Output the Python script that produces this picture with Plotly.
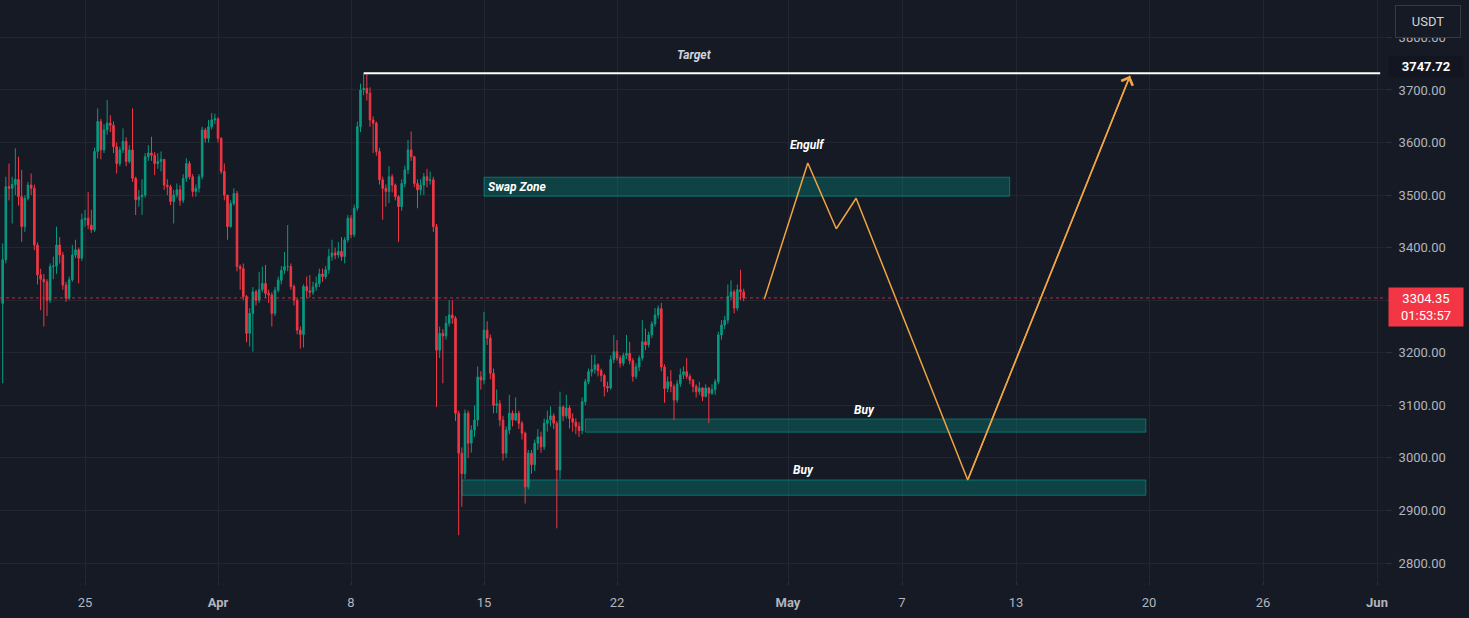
import pandas as pd
import plotly.graph_objects as go

# ---------------- data (4h candles, ETH/USDT) ----------------
start_time = "2024-03-20 16:00"
first_open = 3294

close = [3377, 3516, 3513, 3520, 3530, 3497, 3440, 3494, 3519, 3513,
         3405, 3348, 3340, 3335, 3300, 3364, 3365, 3405, 3386, 3329,
         3304, 3339, 3386, 3396, 3380, 3453, 3456, 3443, 3434, 3583,
         3640, 3586, 3624, 3637, 3633, 3592, 3560, 3586, 3602, 3564,
         3586, 3532, 3491, 3497, 3500, 3573, 3580, 3576, 3560, 3564,
         3568, 3519, 3516, 3488, 3500, 3510, 3490, 3532, 3560,
         3535, 3507, 3513, 3535, 3624, 3608, 3630, 3643, 3645, 3608,
         3545, 3500, 3440, 3484, 3503, 3364, 3360, 3307, 3237, 3275,
         3316, 3300, 3320, 3332, 3313, 3310, 3275, 3319, 3338, 3357,
         3364, 3364, 3326, 3300, 3243, 3235, 3326, 3318, 3315, 3325,
         3332, 3350, 3345, 3358, 3383, 3390, 3386, 3393, 3383, 3415,
         3456, 3425, 3475, 3630, 3700, 3703, 3694, 3643, 3637,
         3583, 3529, 3513, 3507, 3535, 3519, 3497, 3478, 3522, 3548,
         3586, 3573, 3522, 3510, 3519, 3535, 3528, 3529,
         3440, 3205, 3237, 3232, 3256, 3272, 3266, 3085, 3009, 2970,
         3085, 3028, 3053, 3072, 3154, 3148, 3243, 3228, 3161, 3100,
         3103, 3072, 3009, 3053, 3085, 3072, 3085, 3066, 3047, 2945,
         3009, 2987, 3028, 3040, 3021, 3066, 3072, 3080, 3066, 2977,
         3097,
         3080, 3095, 3075, 3068, 3060, 3052, 3107, 3145, 3164, 3168,
         3177, 3166, 3157, 3136, 3133, 3187, 3202, 3190, 3180, 3195,
         3199, 3185, 3155, 3173, 3190, 3221, 3215, 3234, 3255, 3272,
         3284, 3173, 3132, 3145, 3136, 3110, 3141, 3158, 3164, 3155,
         3148, 3136, 3126, 3133, 3117, 3133, 3123, 3130, 3145, 3234,
         3253, 3262, 3307, 3316, 3285, 3320, 3316, 3304.35]

high = [3408, 3535, 3560, 3535, 3589, 3573, 3548, 3500, 3525, 3541,
        3520, 3410, 3360, 3350, 3340, 3370, 3383, 3440, 3420, 3392,
        3335, 3345, 3405, 3415, 3400, 3465, 3472, 3506, 3472, 3590,
        3665, 3645, 3635, 3681, 3652, 3640, 3600, 3592, 3627, 3610,
        3595, 3665, 3535, 3510, 3530, 3580, 3595, 3611, 3582, 3580,
        3583, 3568, 3530, 3520, 3510, 3522, 3519, 3540, 3570,
        3565, 3540, 3520, 3540, 3630, 3628, 3643, 3656, 3655, 3648,
        3610, 3560, 3490, 3490, 3513, 3508, 3368, 3370, 3310, 3285,
        3325, 3320, 3354, 3364, 3367, 3320, 3315, 3325, 3345, 3365,
        3392, 3443, 3370, 3330, 3305, 3250, 3330, 3345, 3348, 3335,
        3345, 3360, 3360, 3365, 3398, 3415, 3400, 3411, 3420, 3420,
        3462, 3462, 3482, 3640, 3712, 3731, 3731, 3705, 3650,
        3640, 3590, 3535, 3520, 3555, 3540, 3522, 3500, 3530, 3556,
        3605, 3621, 3575, 3530, 3530, 3542, 3550, 3545,
        3535, 3445, 3250, 3245, 3270, 3300, 3300, 3270, 3090, 3020,
        3092, 3090, 3062, 3100, 3174, 3165, 3278, 3260, 3235, 3170,
        3130, 3110, 3080, 3060, 3120, 3090, 3115, 3090, 3070, 3050,
        3015, 3015, 3035, 3055, 3050, 3075, 3090, 3098, 3085, 3070,
        3126,
        3100, 3120, 3100, 3085, 3075, 3068, 3115, 3150, 3170, 3196,
        3196, 3180, 3170, 3160, 3145, 3195, 3234, 3224, 3195, 3200,
        3234, 3221, 3190, 3180, 3195, 3262, 3246, 3240, 3260, 3285,
        3290, 3295, 3178, 3155, 3167, 3140, 3148, 3170, 3174, 3190,
        3160, 3150, 3140, 3145, 3135, 3140, 3135, 3140, 3150, 3240,
        3262, 3270, 3330, 3338, 3320, 3330, 3358, 3322]

low = [3142, 3370, 3490, 3446, 3500, 3480, 3411, 3430, 3490, 3500,
       3395, 3330, 3281, 3250, 3270, 3295, 3340, 3350, 3370, 3320,
       3297, 3300, 3335, 3380, 3332, 3375, 3440, 3435, 3428, 3430,
       3570, 3568, 3580, 3615, 3620, 3580, 3541, 3555, 3580, 3555,
       3560, 3525, 3462, 3478, 3462, 3495, 3565, 3565, 3538, 3550,
       3545, 3510, 3500, 3481, 3446, 3495, 3480, 3485, 3525,
       3530, 3497, 3497, 3505, 3530, 3600, 3600, 3625, 3635, 3600,
       3540, 3490, 3415, 3438, 3480, 3355, 3320, 3300, 3220, 3212,
       3202, 3290, 3295, 3315, 3305, 3295, 3250, 3270, 3315, 3330,
       3350, 3355, 3320, 3290, 3235, 3208, 3210, 3305, 3305, 3310,
       3318, 3325, 3335, 3340, 3350, 3375, 3378, 3380, 3375, 3370,
       3410, 3418, 3420, 3470, 3620, 3690, 3680, 3630, 3580,
       3575, 3520, 3453, 3478, 3485, 3505, 3490, 3411, 3470, 3515,
       3540, 3565, 3515, 3475, 3500, 3500, 3515, 3520,
       3430, 3097, 3190, 3142, 3225, 3250, 3255, 3070, 2853, 2907,
       2960, 3000, 3010, 3040, 3060, 3130, 3140, 3215, 3150, 3085,
       3085, 3060, 2995, 3000, 3045, 3060, 3070, 3055, 3035, 2913,
       2940, 2970, 2975, 3015, 3010, 3015, 3050, 3060, 3055, 2866,
       2960,
       3070, 3075, 3056, 3050, 3045, 3040, 3045, 3100, 3140, 3155,
       3160, 3155, 3145, 3117, 3125, 3130, 3180, 3185, 3172, 3175,
       3188, 3178, 3145, 3150, 3165, 3185, 3205, 3210, 3228, 3250,
       3265, 3165, 3105, 3125, 3125, 3072, 3105, 3135, 3150, 3150,
       3140, 3125, 3115, 3120, 3108, 3115, 3066, 3120, 3120, 3140,
       3225, 3245, 3255, 3300, 3275, 3280, 3300, 3298]

current_price = 3304.35
target_price = 3732
target_label = "3747.72"

# projected path (orange)
proj_x = ["2024-04-29 18:00", "2024-05-02 01:00", "2024-05-03 13:00",
          "2024-05-04 14:00", "2024-05-10 11:00", "2024-05-19 00:00"]
proj_y = [3302, 3561, 3436, 3494, 2958, 3727]

# zones
zones = [
    dict(name="Swap Zone", x0="2024-04-15 00:00", x1="2024-05-12 16:00", y0=3498, y1=3534),
    dict(name="Buy", x0="2024-04-20 08:00", x1="2024-05-19 20:00", y0=3049, y1=3074),
    dict(name="Buy", x0="2024-04-13 20:00", x1="2024-05-19 20:00", y0=2929, y1=2958),
]

tick_dates = ["2024-03-25", "2024-04-01", "2024-04-08", "2024-04-15", "2024-04-22",
              "2024-05-01", "2024-05-07", "2024-05-13", "2024-05-20", "2024-05-26", "2024-06-01"]
tick_text = ["25", "<b>Apr</b>", "8", "15", "22", "<b>May</b>", "7", "13", "20", "26", "<b>Jun</b>"]

# price ticks (3300.00 is covered by the live-price badge in the reference)
price_ticks = [2800, 2900, 3000, 3100, 3200, 3300, 3400, 3500, 3600, 3700, 3800]
price_tick_text = ["2800.00", "2900.00", "3000.00", "3100.00", "3200.00", "",
                   "3400.00", "3500.00", "3600.00", "3700.00", "3800.00"]

# ---------------- build ----------------
times = pd.date_range(start_time, periods=len(close), freq="4h")
opn = [first_open] + close[:-1]
hi = [max(h, o, c) for h, o, c in zip(high, opn, close)]
lo = [min(l, o, c) for l, o, c in zip(low, opn, close)]

BG = "#161a25"
GRID = "#222631"
TXT = "#b2b5be"
GREEN = "#089981"
RED = "#f23645"
ORANGE = "#f0a443"

fig = go.Figure()
fig.add_trace(go.Candlestick(
    x=times, open=opn, high=hi, low=lo, close=close,
    increasing=dict(line=dict(color=GREEN, width=1), fillcolor=GREEN),
    decreasing=dict(line=dict(color=RED, width=1), fillcolor=RED),
    whiskerwidth=0, showlegend=False, hoverinfo="skip"))

fig.add_trace(go.Scatter(x=proj_x, y=proj_y, mode="lines",
                         line=dict(color=ORANGE, width=1.5), showlegend=False, hoverinfo="skip"))

shapes = []
for z in zones:
    shapes.append(dict(type="rect", xref="x", yref="y", x0=z["x0"], x1=z["x1"], y0=z["y0"], y1=z["y1"],
                       fillcolor="rgba(0,150,136,0.33)", line=dict(color="rgba(0,170,150,0.55)", width=1),
                       layer="between"))
# target line
shapes.append(dict(type="line", xref="x", yref="y", x0="2024-04-08 16:00", x1="2024-06-01 04:00",
                   y0=target_price, y1=target_price, line=dict(color="#ffffff", width=2)))
# current price dotted line
shapes.append(dict(type="line", xref="paper", yref="y", x0=0, x1=1, y0=current_price, y1=current_price,
                   line=dict(color="rgba(242,54,69,0.75)", width=1, dash="dot")))
fig.update_layout(shapes=shapes)

lab_font = dict(family="Roboto", size=12, color="#ffffff")
ann = [
    dict(x="2024-04-26 02:00", y=3766, text="<b><i>Target</i></b>", showarrow=False,
         font=dict(family="Roboto", size=12, color="#d1d4dc")),
    dict(x="2024-04-15 03:00", y=3516, text="<b><i>Swap Zone</i></b>", showarrow=False, font=lab_font, xanchor="left"),
    dict(x="2024-05-02 00:00", y=3595, text="<b><i>Engulf</i></b>", showarrow=False, font=lab_font),
    dict(x="2024-05-05 01:00", y=3091, text="<b><i>Buy</i></b>", showarrow=False, font=lab_font),
    dict(x="2024-05-01 20:00", y=2977, text="<b><i>Buy</i></b>", showarrow=False, font=lab_font),
    # arrow head at projection end
    dict(x=proj_x[-1], y=proj_y[-1], ax=proj_x[-2], ay=proj_y[-2], axref="x", ayref="y",
         xref="x", yref="y", showarrow=True, arrowhead=4, arrowsize=1.6, arrowwidth=1.5,
         arrowcolor=ORANGE, text=""),
    # current price label
    dict(xref="paper", x=1, xshift=3, xanchor="left", yref="y", y=current_price, yanchor="top", yshift=11,
         text="3304.35<br>01:53:57", showarrow=False, align="center",
         font=dict(family="Roboto", size=13, color="#ffffff"), bgcolor=RED, borderpad=3, width=68),
    # target price label
    dict(xref="paper", x=1, xshift=3, xanchor="left", yref="y", y=3745, yanchor="middle",
         text="<b>" + target_label + "</b>", showarrow=False,
         font=dict(family="Roboto", size=13, color="#ffffff"), bgcolor="#131620", borderpad=3, width=68),
    # USDT button
    dict(xref="paper", yref="paper", x=1, xshift=10, xanchor="left", y=1, yshift=-5, yanchor="top",
         text="USDT", showarrow=False, font=dict(family="Roboto", size=13, color="#d1d4dc"),
         bgcolor=BG, bordercolor="#363a45", borderwidth=1, borderpad=8, width=48),
]
fig.update_layout(annotations=ann)

fig.update_layout(
    width=1469, height=618,
    margin=dict(l=0, r=84, t=0, b=38),
    paper_bgcolor=BG, plot_bgcolor=BG,
    font=dict(family="Roboto", color=TXT, size=13),
    showlegend=False,
    xaxis=dict(type="date", range=["2024-03-20 12:38", "2024-06-01 10:05"],
               rangeslider=dict(visible=False),
               tickvals=tick_dates, ticktext=tick_text,
               showgrid=True, gridcolor=GRID, gridwidth=1,
               ticks="outside", ticklen=4, tickcolor="#2a2e39",
               tickfont=dict(color=TXT, size=13), ticklabelstandoff=6,
               showline=False, zeroline=False, fixedrange=True),
    yaxis=dict(side="right", range=[2767.7, 3871.2],
               tickvals=price_ticks, ticktext=price_tick_text,
               showgrid=True, gridcolor=GRID, gridwidth=1,
               ticks="outside", ticklen=6, tickcolor="#2a2e39",
               tickfont=dict(color=TXT, size=13), ticklabelstandoff=4,
               showline=False, zeroline=False, fixedrange=True),
)

fig.write_html("out.html")
